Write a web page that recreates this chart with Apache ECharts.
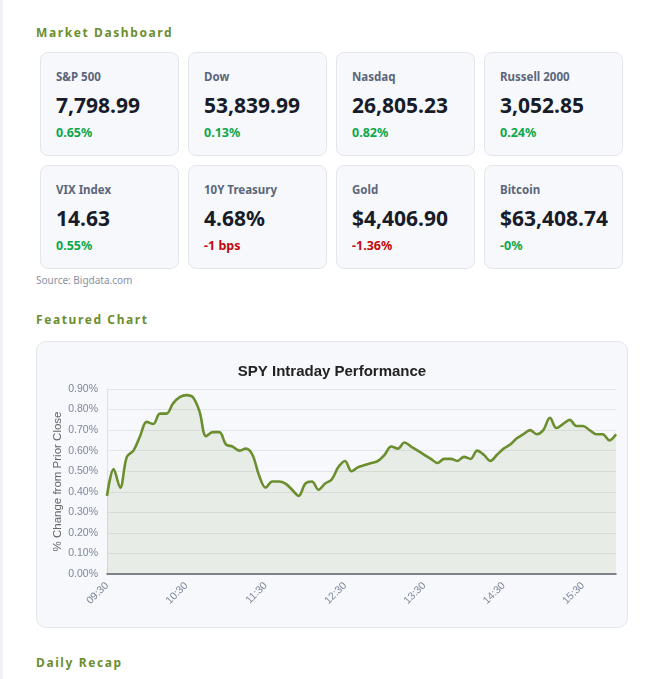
<!DOCTYPE html>
<html>
<head>
<meta charset="utf-8">
<script src="https://cdn.jsdelivr.net/npm/echarts@6/dist/echarts.min.js"></script>
<style>
body{margin:0;background:#fff;font-family:"Noto Sans","Open Sans",sans-serif;}
#page{position:relative;width:662px;height:679px;overflow:hidden;border-left:3px solid #eff1f6;box-sizing:border-box;}
.sec{position:absolute;left:33px;font-size:12px;font-weight:700;letter-spacing:1.6px;color:#6b8e2f;line-height:14px;}
.card{position:absolute;width:139px;height:104px;box-sizing:border-box;background:#f7f8fc;border:1px solid #e3e6ed;border-radius:8px;}
.card .lb{position:absolute;left:15px;top:17px;font-size:11.5px;font-weight:700;color:#5b667a;line-height:14px;}
.card .val{position:absolute;left:15px;top:39px;font-size:21px;font-weight:700;color:#171c28;line-height:26px;}
.card .chg{position:absolute;left:15px;top:73px;font-size:12.5px;font-weight:700;line-height:14px;}
.up{color:#0ca74c;}.dn{color:#c10a0a;}
#src{position:absolute;left:33px;top:273px;font-size:10px;color:#8791a3;}
#box{position:absolute;left:33px;top:341px;width:592px;height:287px;box-sizing:border-box;background:#f7f8fc;border:1px solid #e3e6ed;border-radius:10px;}
#chart{width:590px;height:285px;}
</style>
</head>
<body>
<div id="page">
  <div class="sec" style="top:26px">Market Dashboard</div>
  <div id="cards"></div>
  <div id="src">Source: Bigdata.com</div>
  <div class="sec" style="top:313px">Featured Chart</div>
  <div id="box"><div id="chart"></div></div>
  <div class="sec" style="top:656px">Daily Recap</div>
</div>
<script>
// dashboard tiles
var tileNames = ['S&P 500','Dow','Nasdaq','Russell 2000','VIX Index','10Y Treasury','Gold','Bitcoin'];
var tileValues = ['7,798.99','53,839.99','26,805.23','3,052.85','14.63','4.68%','$4,406.90','$63,408.74'];
var tileChanges = ['0.65%','0.13%','0.82%','0.24%','0.55%','-1 bps','-1.36%','-0%'];
var tileUp = [true,true,true,true,true,false,false,true];

var cards = document.getElementById('cards');
for (var i = 0; i < tileNames.length; i++) {
    var c = document.createElement('div');
    c.className = 'card';
    c.style.left = (37 + (i % 4) * 148) + 'px';
    c.style.top = (i < 4 ? 52 : 165) + 'px';
    c.innerHTML = '<div class="lb"></div><div class="val"></div><div class="chg ' + (tileUp[i] ? 'up' : 'dn') + '"></div>';
    c.children[0].textContent = tileNames[i];
    c.children[1].textContent = tileValues[i];
    c.children[2].textContent = tileChanges[i];
    cards.appendChild(c);
}

// SPY intraday, 5 minute bars
var times = ['09:30','09:35','09:40','09:45','09:50','09:55','10:00','10:05','10:10','10:15','10:20','10:25',
    '10:30','10:35','10:40','10:45','10:50','10:55','11:00','11:05','11:10','11:15','11:20','11:25',
    '11:30','11:35','11:40','11:45','11:50','11:55','12:00','12:05','12:10','12:15','12:20','12:25',
    '12:30','12:35','12:40','12:45','12:50','12:55','13:00','13:05','13:10','13:15','13:20','13:25',
    '13:30','13:35','13:40','13:45','13:50','13:55','14:00','14:05','14:10','14:15','14:20','14:25',
    '14:30','14:35','14:40','14:45','14:50','14:55','15:00','15:05','15:10','15:15','15:20','15:25',
    '15:30','15:35','15:40','15:45','15:50','15:55'];
var pctChange = [0.38,0.51,0.42,0.57,0.60,0.67,0.74,0.73,0.78,0.78,0.83,0.86,
    0.87,0.86,0.79,0.67,0.69,0.69,0.63,0.62,0.60,0.61,0.58,0.48,
    0.42,0.45,0.45,0.44,0.41,0.38,0.44,0.45,0.41,0.44,0.46,0.52,
    0.55,0.50,0.52,0.53,0.54,0.55,0.58,0.62,0.61,0.64,0.62,0.60,
    0.58,0.56,0.54,0.56,0.56,0.55,0.57,0.56,0.60,0.58,0.55,0.58,
    0.61,0.63,0.66,0.68,0.70,0.68,0.70,0.76,0.71,0.73,0.75,0.72,
    0.72,0.70,0.68,0.68,0.65,0.68];

var chart1 = echarts.init(document.getElementById('chart'));
var option = {
    animation: false,
    textStyle: {fontFamily: '"Liberation Sans", Arial, sans-serif'},
    title: {
        text: 'SPY Intraday Performance',
        left: 'center',
        top: 17,
        textStyle: {fontSize: 15, fontWeight: 'bold', color: '#222'}
    },
    grid: {left: 70, right: 11, top: 47, bottom: 53, containLabel: false, outerBoundsMode: 'none'},
    xAxis: {
        type: 'category',
        data: times,
        boundaryGap: false,
        axisLine: {lineStyle: {color: '#5a5f6a', width: 1.5}},
        axisTick: {show: false},
        axisLabel: {interval: 11, rotate: 45, color: '#7d8699', fontSize: 10.5, margin: 10},
        splitLine: {show: false}
    },
    yAxis: {
        type: 'value',
        min: 0,
        max: 0.9,
        interval: 0.1,
        name: '% Change from Prior Close',
        nameLocation: 'middle',
        nameGap: 43,
        nameMoveOverlap: false,
        nameTextStyle: {fontSize: 11.5, color: '#666'},
        axisLine: {show: true, lineStyle: {color: '#dde0e6'}},
        axisTick: {show: false},
        axisLabel: {
            color: '#7d8699', fontSize: 10.5, margin: 9,
            formatter: function (v) { return v.toFixed(2) + '%'; }
        },
        splitLine: {lineStyle: {color: '#e3e5ea'}}
    },
    series: [{
        type: 'line',
        data: pctChange,
        smooth: 0.35,
        showSymbol: false,
        lineStyle: {color: '#6b8e2f', width: 2.6},
        itemStyle: {color: '#6b8e2f'},
        areaStyle: {color: 'rgba(107,142,47,0.15)'}
    }]
};
chart1.setOption(option);
</script>
</body>
</html>
